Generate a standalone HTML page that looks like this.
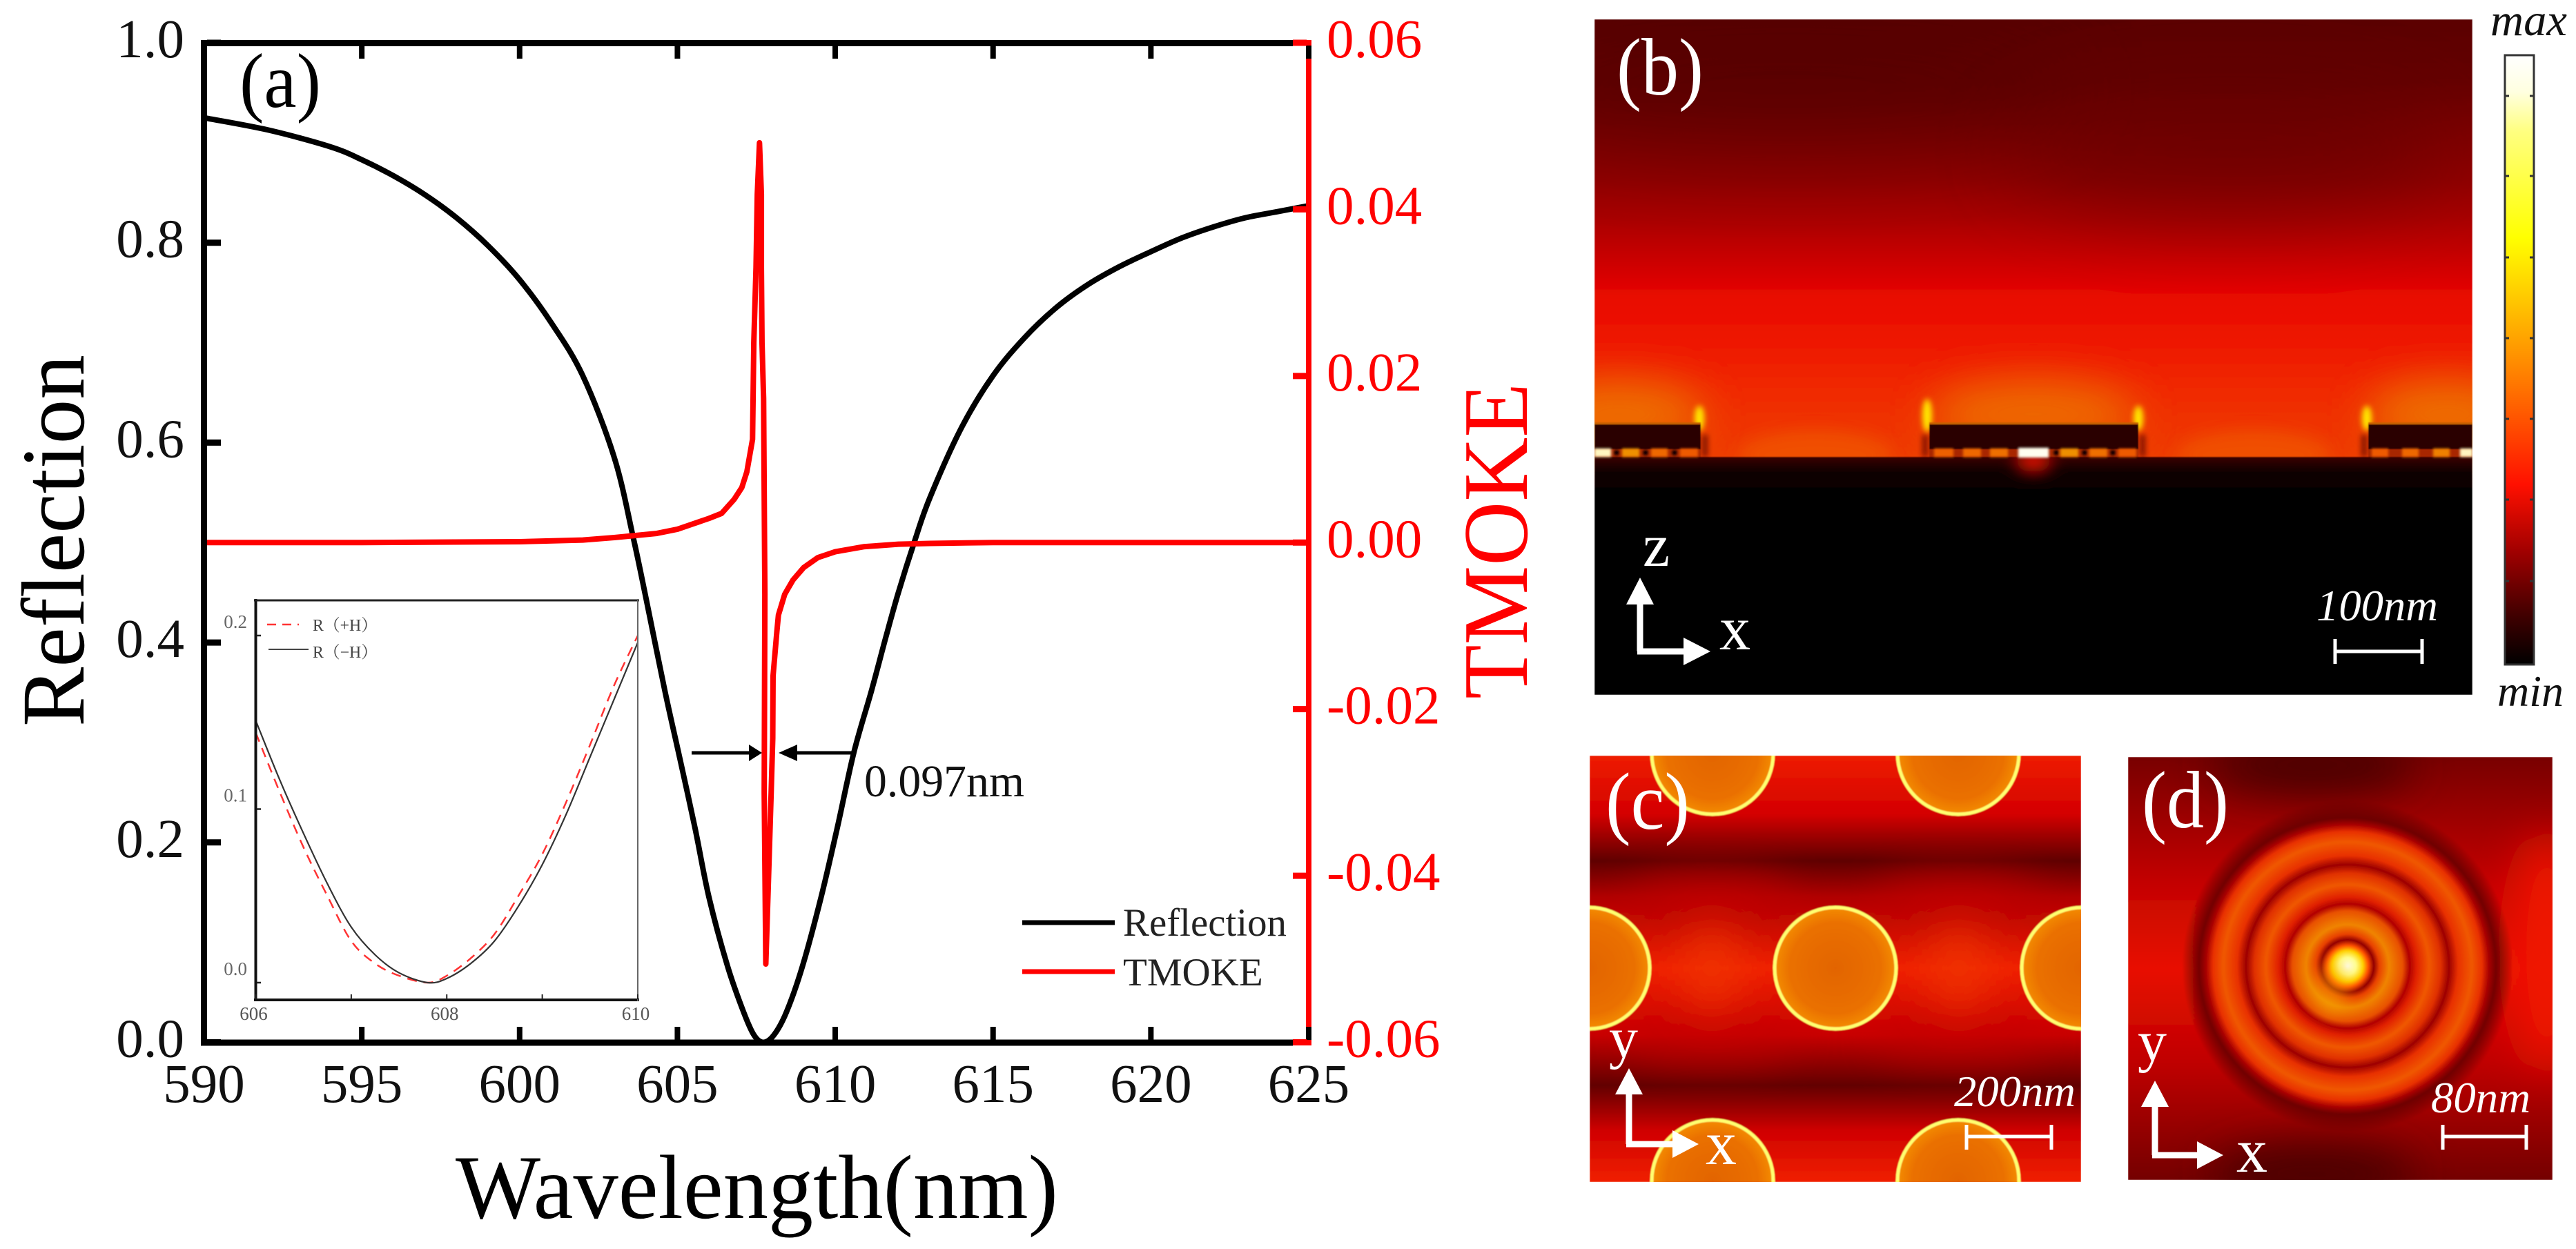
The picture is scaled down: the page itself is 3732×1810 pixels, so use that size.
<!DOCTYPE html>
<html lang="en">
<head>
<meta charset="utf-8">
<title>Reflection and TMOKE spectra with field maps</title>
<style>
html,body{margin:0;padding:0;background:#fff;width:3732px;height:1810px;overflow:hidden}
svg{display:block}
text{font-family:"Liberation Serif","Noto Serif CJK SC",serif}
</style>
</head>
<body>
<svg id="figure" xmlns="http://www.w3.org/2000/svg" width="3732" height="1810" viewBox="0 0 3732 1810">
<defs>
  <filter id="b1" x="-20%" y="-20%" width="140%" height="140%"><feGaussianBlur stdDeviation="1.6"/></filter>
  <filter id="b3" x="-100%" y="-100%" width="300%" height="300%"><feGaussianBlur stdDeviation="4"/></filter>
  <filter id="b12" x="-100%" y="-150%" width="300%" height="400%"><feGaussianBlur stdDeviation="12"/></filter>
  <filter id="b30" x="-60%" y="-100%" width="220%" height="300%"><feGaussianBlur stdDeviation="30"/></filter>
  <filter id="b60" x="-60%" y="-150%" width="220%" height="400%"><feGaussianBlur stdDeviation="60"/></filter>
  <filter id="soft" x="-2%" y="-2%" width="104%" height="104%"><feGaussianBlur stdDeviation="0.7"/></filter>
  <clipPath id="clip-b"><rect x="2310" y="28" width="1272" height="979"/></clipPath>
  <clipPath id="clip-c"><rect x="2303" y="1095" width="712" height="618"/></clipPath>
  <clipPath id="clip-d"><rect x="3083" y="1097" width="615" height="613"/></clipPath>
  <linearGradient id="grad-b" gradientUnits="userSpaceOnUse" x1="0" y1="28" x2="0" y2="662">
    <stop offset="0" stop-color="#5a0000"/><stop offset=".145" stop-color="#660000"/><stop offset=".255" stop-color="#7c0000"/>
    <stop offset=".366" stop-color="#900000"/><stop offset=".46" stop-color="#aa0000"/><stop offset=".555" stop-color="#cc0000"/>
    <stop offset=".634" stop-color="#e80800"/><stop offset=".744" stop-color="#ee1800"/><stop offset=".84" stop-color="#f02800"/>
    <stop offset="1" stop-color="#ee3c00"/>
  </linearGradient>
  <linearGradient id="grad-sub" gradientUnits="userSpaceOnUse" x1="0" y1="662" x2="0" y2="720">
    <stop offset="0" stop-color="#3a0500"/><stop offset=".35" stop-color="#120000"/><stop offset="1" stop-color="#000"/>
  </linearGradient>
  <linearGradient id="grad-cb" x1="0" y1="0" x2="0" y2="1">
    <stop offset="0" stop-color="#ffffff"/><stop offset=".06" stop-color="#ffffe0"/><stop offset=".125" stop-color="#ffff80"/>
    <stop offset=".3" stop-color="#ffff00"/><stop offset=".415" stop-color="#ffc000"/><stop offset=".525" stop-color="#ff8000"/>
    <stop offset=".63" stop-color="#ff4000"/><stop offset=".705" stop-color="#ff1000"/><stop offset=".815" stop-color="#a00000"/>
    <stop offset=".92" stop-color="#400000"/><stop offset="1" stop-color="#000"/>
  </linearGradient>
  <linearGradient id="grad-c" gradientUnits="userSpaceOnUse" x1="0" y1="1095" x2="0" y2="1713">
    <stop offset="0" stop-color="#ee1c00"/><stop offset=".137" stop-color="#d40000"/><stop offset=".247" stop-color="#5f0000"/>
    <stop offset=".33" stop-color="#b00000"/><stop offset=".498" stop-color="#f02000"/><stop offset=".655" stop-color="#c80000"/>
    <stop offset=".773" stop-color="#620000"/><stop offset=".88" stop-color="#d00000"/><stop offset="1" stop-color="#f02000"/>
  </linearGradient>
  <radialGradient id="grad-disk"><stop offset="0" stop-color="#e26400"/><stop offset=".75" stop-color="#ea7000"/><stop offset="1" stop-color="#f48c00"/></radialGradient>
  <linearGradient id="grad-d" gradientUnits="userSpaceOnUse" x1="0" y1="1097" x2="0" y2="1710">
    <stop offset="0" stop-color="#780000"/><stop offset=".3" stop-color="#c40400"/><stop offset=".5" stop-color="#e81000"/>
    <stop offset=".72" stop-color="#c00000"/><stop offset="1" stop-color="#740000"/>
  </linearGradient>
  <radialGradient id="grad-rings" gradientUnits="userSpaceOnUse" cx="3401" cy="1400" r="250">
    <stop offset="0" stop-color="#fffff0"/><stop offset=".05" stop-color="#ffff90"/><stop offset=".09" stop-color="#ffd000"/>
    <stop offset=".12" stop-color="#ff5000"/><stop offset=".152" stop-color="#900000"/><stop offset=".184" stop-color="#e84000"/>
    <stop offset=".24" stop-color="#f08400"/><stop offset=".32" stop-color="#e85000"/><stop offset=".36" stop-color="#b00000"/>
    <stop offset=".4" stop-color="#e02000"/><stop offset=".472" stop-color="#f05800"/><stop offset=".54" stop-color="#e03000"/>
    <stop offset=".588" stop-color="#9c0000"/><stop offset=".64" stop-color="#e83000"/><stop offset=".72" stop-color="#f05800"/>
    <stop offset=".78" stop-color="#e83000"/><stop offset=".82" stop-color="#a80000"/><stop offset=".86" stop-color="#680000" stop-opacity=".9"/>
    <stop offset=".96" stop-color="#5a0000" stop-opacity="0"/><stop offset="1" stop-color="#5a0000" stop-opacity="0"/>
  </radialGradient>
</defs>

<rect width="3732" height="1810" fill="#fff"/>

<!-- Panel (a) -->
<g id="panel-a">
  <g id="main-marks"></g>
  <g id="main-axes"></g>
  <text transform="translate(121,1053) rotate(-90)" font-size="130" textLength="539" lengthAdjust="spacingAndGlyphs" fill="#000">Reflection</text>
  <text transform="translate(2212,1013) rotate(-90)" font-size="134" textLength="458" lengthAdjust="spacingAndGlyphs" fill="#f00">TMOKE</text>
  <text x="660" y="1765" font-size="132" textLength="873" lengthAdjust="spacingAndGlyphs" fill="#000">Wavelength(nm)</text>
  <text x="347" y="155" font-size="112" textLength="118" lengthAdjust="spacingAndGlyphs" fill="#000">(a)</text>
  <g>
    <line x1="1002" y1="1091" x2="1090" y2="1091" stroke="#000" stroke-width="5"/>
    <polygon points="1104,1091 1085,1079 1085,1103" fill="#000"/>
    <line x1="1150" y1="1091" x2="1237" y2="1091" stroke="#000" stroke-width="5"/>
    <polygon points="1128,1091 1155,1079 1155,1103" fill="#000"/>
    <text x="1252" y="1154" font-size="66" textLength="232" lengthAdjust="spacingAndGlyphs" fill="#111">0.097nm</text>
  </g>
  <g>
    <line x1="1481" y1="1337" x2="1615" y2="1337" stroke="#000" stroke-width="7"/>
    <text x="1627" y="1356" font-size="57" textLength="237" lengthAdjust="spacingAndGlyphs" fill="#222">Reflection</text>
    <line x1="1481" y1="1408" x2="1615" y2="1408" stroke="#f00" stroke-width="7"/>
    <text x="1627" y="1428" font-size="57" fill="#222">TMOKE</text>
  </g>
  <g id="inset"></g>
  <g>
    <line x1="387" y1="905" x2="433" y2="905" stroke="#f33" stroke-width="2.5" stroke-dasharray="13 9"/>
    <text x="453" y="914" font-size="24" textLength="94" lengthAdjust="spacingAndGlyphs" fill="#444">R（+H）</text>
    <line x1="389" y1="941" x2="447" y2="941" stroke="#444" stroke-width="2"/>
    <text x="453" y="953" font-size="24" textLength="94" lengthAdjust="spacingAndGlyphs" fill="#444">R（−H）</text>
  </g>
</g>

<!-- Panel (b) -->
<g>
  <g clip-path="url(#clip-b)" filter="url(#soft)">
    <rect x="2310" y="28" width="1272" height="640" fill="url(#grad-b)"/>
    <ellipse cx="2590" cy="130" rx="420" ry="90" fill="#480000" opacity=".45" filter="url(#b60)"/>
    <ellipse cx="3230" cy="220" rx="320" ry="90" fill="#500000" opacity=".4" filter="url(#b60)"/>
    <ellipse cx="2345" cy="600" rx="125" ry="50" fill="#ee7400" opacity=".9" filter="url(#b30)"/>
    <ellipse cx="2946" cy="600" rx="150" ry="50" fill="#ee7000" opacity=".9" filter="url(#b30)"/>
    <ellipse cx="3545" cy="600" rx="115" ry="50" fill="#ee7400" opacity=".9" filter="url(#b30)"/>
    <ellipse cx="2630" cy="660" rx="110" ry="35" fill="#f05000" filter="url(#b12)"/>
    <ellipse cx="3265" cy="660" rx="110" ry="35" fill="#f05000" filter="url(#b12)"/>
    <rect x="2466" y="630" width="8" height="32" fill="#500000" opacity=".7" filter="url(#b3)"/>
    <rect x="2785" y="630" width="8" height="32" fill="#500000" opacity=".7" filter="url(#b3)"/>
    <rect x="3100" y="630" width="8" height="32" fill="#500000" opacity=".7" filter="url(#b3)"/>
    <rect x="3421" y="630" width="8" height="32" fill="#500000" opacity=".7" filter="url(#b3)"/>
    <ellipse cx="2462" cy="606" rx="7" ry="18" fill="#ffe800" filter="url(#b3)"/>
    <ellipse cx="2792" cy="602" rx="7" ry="24" fill="#ffe800" filter="url(#b3)"/>
    <ellipse cx="3098" cy="606" rx="7" ry="18" fill="#ffe800" filter="url(#b3)"/>
    <ellipse cx="3429" cy="606" rx="7" ry="18" fill="#ffe800" filter="url(#b3)"/>
    <rect x="2310" y="662" width="1272" height="345" fill="url(#grad-sub)"/>
    <ellipse cx="2946" cy="668" rx="26" ry="16" fill="#e01000" filter="url(#b12)"/>
    <g>
      <rect x="2310" y="613" width="154" height="38" fill="#2a0200"/>
      <rect x="2310" y="612" width="154" height="3" fill="#c86000"/>
      <rect x="2310" y="651" width="154" height="11" fill="#a82800"/>
    </g>
    <g>
      <rect x="2795" y="613" width="303" height="38" fill="#2a0200"/>
      <rect x="2795" y="612" width="303" height="3" fill="#c86000"/>
      <rect x="2795" y="651" width="303" height="11" fill="#a82800"/>
    </g>
    <g>
      <rect x="3431" y="613" width="151" height="38" fill="#2a0200"/>
      <rect x="3431" y="612" width="151" height="3" fill="#c86000"/>
      <rect x="3431" y="651" width="151" height="11" fill="#a82800"/>
    </g>
    <g filter="url(#b1)">
      <rect x="2310" y="650" width="24" height="12" fill="#fff6c0"/>
      <rect x="2350" y="650" width="25" height="12" fill="#ee9000"/>
      <rect x="2392" y="650" width="24" height="12" fill="#ee6800"/>
      <rect x="2434" y="650" width="26" height="12" fill="#ee5a00"/>
      <rect x="2802" y="650" width="28" height="12" fill="#ee6000"/>
      <rect x="2844" y="650" width="26" height="12" fill="#ee6800"/>
      <rect x="2883" y="650" width="26" height="12" fill="#ee7000"/>
      <rect x="2924" y="649" width="44" height="14" fill="#fffff0"/>
      <rect x="2985" y="650" width="26" height="12" fill="#ee9000"/>
      <rect x="3027" y="650" width="26" height="12" fill="#ee7000"/>
      <rect x="3069" y="650" width="26" height="12" fill="#ee5a00"/>
      <rect x="3436" y="650" width="24" height="12" fill="#ee5a00"/>
      <rect x="3480" y="650" width="24" height="12" fill="#ee6800"/>
      <rect x="3525" y="650" width="24" height="12" fill="#ee8000"/>
      <rect x="3564" y="650" width="18" height="12" fill="#fff6c0"/>
      <circle cx="2342" cy="656" r="4" fill="#100000"/>
      <circle cx="2384" cy="656" r="4" fill="#100000"/>
      <circle cx="2426" cy="656" r="4" fill="#100000"/>
      <circle cx="2979" cy="656" r="4" fill="#100000"/>
      <circle cx="3020" cy="656" r="4" fill="#100000"/>
      <circle cx="3061" cy="656" r="4" fill="#100000"/>
    </g>
  </g>
  <text x="2342" y="137" font-size="118" textLength="126" lengthAdjust="spacingAndGlyphs" fill="#fff">(b)</text>
  <g>
    <path d="M2376 870V944" stroke="#fff" stroke-width="9" fill="none"/>
    <path d="M2372 944H2445" stroke="#fff" stroke-width="9" fill="none"/>
    <polygon points="2376,837 2356,876 2396,876" fill="#fff"/>
    <polygon points="2478,944 2439,924 2439,964" fill="#fff"/>
    <text x="2380" y="820" font-size="88" fill="#fff">z</text>
    <text x="2491" y="941" font-size="90" fill="#fff">x</text>
  </g>
  <text x="3356" y="899" font-size="64" font-style="italic" textLength="176" lengthAdjust="spacingAndGlyphs" fill="#fff">100nm</text>
  <path d="M3383 926V962M3383 944H3509M3509 926V962" stroke="#fff" stroke-width="5" fill="none"/>
</g>

<!-- Colorbar -->
<g>
  <text x="3608" y="51" font-size="66" font-style="italic" textLength="111" lengthAdjust="spacingAndGlyphs" fill="#111">max</text>
  <rect x="3629" y="80" width="42" height="883" fill="url(#grad-cb)" stroke="#333" stroke-width="3"/>
  <path d="M3629 139h6M3671 139h-6M3629 255h6M3671 255h-6M3629 373h6M3671 373h-6M3629 490h6M3671 490h-6M3629 607h6M3671 607h-6M3629 724h6M3671 724h-6M3629 842h6M3671 842h-6" stroke="#333" stroke-width="3"/>
  <text x="3618" y="1023" font-size="64" font-style="italic" textLength="96" lengthAdjust="spacingAndGlyphs" fill="#111">min</text>
</g>

<!-- Panel (c) -->
<g>
  <g clip-path="url(#clip-c)" filter="url(#soft)">
    <rect x="2303" y="1095" width="712" height="618" fill="url(#grad-c)"/>
    <ellipse cx="2481" cy="1300" rx="120" ry="34" fill="#c00000" opacity=".75" filter="url(#b30)"/>
    <ellipse cx="2837" cy="1300" rx="120" ry="34" fill="#c00000" opacity=".75" filter="url(#b30)"/>
    <ellipse cx="2481" cy="1510" rx="120" ry="30" fill="#c00000" opacity=".6" filter="url(#b30)"/>
    <ellipse cx="2837" cy="1510" rx="120" ry="30" fill="#c00000" opacity=".6" filter="url(#b30)"/>
    <ellipse cx="2480" cy="1403" rx="50" ry="70" fill="#f03800" opacity=".7" filter="url(#b30)"/>
    <ellipse cx="2838" cy="1403" rx="50" ry="70" fill="#f03800" opacity=".7" filter="url(#b30)"/>
    <g stroke="#ffff70" stroke-width="5" fill="url(#grad-disk)">
      <circle cx="2481" cy="1092" r="88"/>
      <circle cx="2837" cy="1092" r="88"/>
      <circle cx="2302" cy="1403" r="88"/>
      <circle cx="2659" cy="1403" r="88"/>
      <circle cx="3017" cy="1403" r="88"/>
      <circle cx="2481" cy="1711" r="88"/>
      <circle cx="2837" cy="1711" r="88"/>
    </g>
  </g>
  <text x="2326" y="1201" font-size="118" textLength="122" lengthAdjust="spacingAndGlyphs" fill="#fff">(c)</text>
  <g>
    <path d="M2360 1580V1658" stroke="#fff" stroke-width="9" fill="none"/>
    <path d="M2356 1658H2428" stroke="#fff" stroke-width="9" fill="none"/>
    <polygon points="2360,1548 2340,1586 2380,1586" fill="#fff"/>
    <polygon points="2461,1658 2423,1638 2423,1678" fill="#fff"/>
    <text x="2331" y="1532" font-size="84" fill="#fff">y</text>
    <text x="2471" y="1687" font-size="90" fill="#fff">x</text>
  </g>
  <text x="2831" y="1603" font-size="64" font-style="italic" textLength="176" lengthAdjust="spacingAndGlyphs" fill="#fff">200nm</text>
  <path d="M2849 1630V1666M2849 1647H2972M2972 1630V1666" stroke="#fff" stroke-width="5" fill="none"/>
</g>

<!-- Panel (d) -->
<g>
  <g clip-path="url(#clip-d)" filter="url(#soft)">
    <rect x="3083" y="1097" width="615" height="613" fill="url(#grad-d)"/>
    <ellipse cx="3690" cy="1380" rx="50" ry="170" fill="#f01800" filter="url(#b30)"/>
    <ellipse cx="3350" cy="1110" rx="150" ry="40" fill="#4a0000" filter="url(#b30)"/>
    <ellipse cx="3350" cy="1700" rx="150" ry="40" fill="#4a0000" filter="url(#b30)"/>
    <circle cx="3401" cy="1400" r="250" fill="url(#grad-rings)"/>
    <ellipse cx="3378" cy="1432" rx="26" ry="38" fill="#f8b000" opacity=".45" filter="url(#b12)"/>
  </g>
  <text x="3103" y="1199" font-size="118" textLength="126" lengthAdjust="spacingAndGlyphs" fill="#fff">(d)</text>
  <g>
    <path d="M3122 1598V1674" stroke="#fff" stroke-width="9" fill="none"/>
    <path d="M3118 1674H3188" stroke="#fff" stroke-width="9" fill="none"/>
    <polygon points="3122,1566 3102,1604 3142,1604" fill="#fff"/>
    <polygon points="3221,1674 3183,1654 3183,1694" fill="#fff"/>
    <text x="3097" y="1537" font-size="84" fill="#fff">y</text>
    <text x="3240" y="1698" font-size="90" fill="#fff">x</text>
  </g>
  <text x="3522" y="1612" font-size="64" font-style="italic" textLength="144" lengthAdjust="spacingAndGlyphs" fill="#fff">80nm</text>
  <path d="M3539 1630V1666M3539 1647H3660M3660 1630V1666" stroke="#fff" stroke-width="5" fill="none"/>
</g>
</svg>

<script>
// ---- main chart data ----
const reflectionWavelengths = [590,592,594,595,596,597,598,599,600,601,602,603,603.6,604,604.6,605.07,605.56,606,606.59,607.1,607.43,607.72,608.05,608.45,608.96,609.55,610.06,610.59,611.15,611.6,612,612.5,613,614,615,616,617,618,619,620,621,622,623,624,625];
const reflectionValues = [0.925,0.913,0.896,0.883,0.867,0.848,0.825,0.797,0.763,0.72,0.667,0.585,0.505,0.445,0.352,0.285,0.214,0.145,0.076,0.03,0.007,0,0.007,0.03,0.076,0.145,0.214,0.29,0.352,0.405,0.45,0.5,0.545,0.615,0.667,0.705,0.735,0.758,0.776,0.791,0.805,0.816,0.825,0.831,0.837];
const tmokeWavelengths = [590,595,600,602,603,604.35,605,606,606.4,606.8,607.04,607.2,607.38,607.42,607.49,607.53,607.6,607.66,607.66,607.68,607.73,607.77,607.75,607.8,607.88,607.97,608.02,608.03,608.15,608.2,608.4,608.66,609,609.45,610,610.9,612,613,615,620,625];
const tmokeValues = [0,0,0.0001,0.0003,0.0006,0.0011,0.0016,0.0029,0.0035,0.0052,0.0066,0.0085,0.0124,0.024,0.033,0.0418,0.048,0.0418,0.033,0.024,0.0173,-0.0062,-0.03,-0.0506,-0.041,-0.03,-0.0235,-0.016,-0.0107,-0.0087,-0.0062,-0.0045,-0.003,-0.0018,-0.0011,-0.0005,-0.0002,-0.0001,0,0,0];
const xTickLabels = [590,595,600,605,610,615,620,625];
const leftTickLabels = ["0.0","0.2","0.4","0.6","0.8","1.0"];
const rightTickLabels = ["-0.06","-0.04","-0.02","0.00","0.02","0.04","0.06"];

// ---- inset data ----
const insetWavelengths = [606,606.25,606.5,606.75,607,607.25,607.5,607.8,608,608.25,608.5,608.75,609,609.25,609.5,609.75,610];
const insetMinusValues = [0.151,0.117,0.086,0.057,0.032,0.016,0.0057,0,0.0024,0.011,0.024,0.044,0.068,0.097,0.13,0.163,0.196];
const insetPlusValues = [0.144,0.11,0.078,0.05,0.024,0.011,0.004,0,0.004,0.014,0.028,0.05,0.074,0.104,0.137,0.171,0.2];
const insetXTicks = [606,607,608,609,610];
const insetXLabels = ["606","","608","","610"];
const insetYLabels = ["0.0","0.1","0.2"];

const NS = 'http://www.w3.org/2000/svg';
function mk(parent, tag, attrs, txt) {
  const el = document.createElementNS(NS, tag);
  for (const k in attrs) el.setAttribute(k, attrs[k]);
  if (txt !== undefined) el.textContent = txt;
  parent.appendChild(el);
  return el;
}
// axis functions
const xMain = v => 295.5 + (v - 590) * (1896 - 295.5) / 35;
const yLeft = v => 1510.5 - v * (1510.5 - 62);
const yRight = v => 786.25 - v * (1510.5 - 62) / 0.12;
const xInset = v => 370.5 + (v - 606) * (924 - 370.5) / 4;
const yInset = v => 1424 - v * (1424 - 921) / 0.2;

function smoothPath(px, py) {
  let d = 'M' + px[0].toFixed(2) + ' ' + py[0].toFixed(2);
  for (let i = 0; i < px.length - 1; i++) {
    const a = Math.max(i - 1, 0), b = i + 1, c = Math.min(i + 2, px.length - 1);
    const k = 1 / 6;
    const c1x = px[i] + (px[b] - px[a]) * k, c1y = py[i] + (py[b] - py[a]) * k;
    const c2x = px[b] - (px[c] - px[i]) * k, c2y = py[b] - (py[c] - py[i]) * k;
    d += 'C' + c1x.toFixed(2) + ' ' + c1y.toFixed(2) + ' ' + c2x.toFixed(2) + ' ' + c2y.toFixed(2) + ' ' + px[b].toFixed(2) + ' ' + py[b].toFixed(2);
  }
  return d;
}
function linePath(px, py) {
  return px.map((x, i) => (i ? 'L' : 'M') + x.toFixed(2) + ' ' + py[i].toFixed(2)).join('');
}

const marks = document.getElementById('main-marks');
const reflectionLine = mk(marks, 'path', {
  d: smoothPath(reflectionWavelengths.map(xMain), reflectionValues.map(yLeft)),
  fill: 'none', stroke: '#000', 'stroke-width': 8, 'stroke-linejoin': 'round'
});


const tmokeLine = mk(marks, 'path', {
  d: linePath(tmokeWavelengths.map(xMain), tmokeValues.map(yRight)),
  fill: 'none', stroke: '#f00', 'stroke-width': 8, 'stroke-linejoin': 'round'
});



const axes = document.getElementById('main-axes');
const frameLeft = mk(axes, 'line', {x1: 295.5, y1: 58, x2: 295.5, y2: 1515, stroke: '#000', 'stroke-width': 9});


const frameTop = mk(axes, 'line', {x1: 291, y1: 62.5, x2: 1873, y2: 62.5, stroke: '#000', 'stroke-width': 9});


const frameBottom = mk(axes, 'line', {x1: 291, y1: 1511, x2: 1873, y2: 1511, stroke: '#000', 'stroke-width': 9});


const frameRight = mk(axes, 'line', {x1: 1896, y1: 58, x2: 1896, y2: 1515, stroke: '#f00', 'stroke-width': 8});



xTickLabels.forEach(v => {
  const x = xMain(v);
  const tickB = mk(axes, 'line', {x1: x, y1: 1507, x2: x, y2: 1488, stroke: '#000', 'stroke-width': 8});
  
  
  const tickT = mk(axes, 'line', {x1: x, y1: 66, x2: x, y2: 85, stroke: '#000', 'stroke-width': 8});
  
  
  const label = mk(axes, 'text', {x: x, y: 1597, 'font-size': 79, 'text-anchor': 'middle', fill: '#111'}, String(v));
  
  
});
leftTickLabels.forEach(t => {
  const y = yLeft(parseFloat(t));
  const tick = mk(axes, 'line', {x1: 300, y1: y, x2: 320, y2: y, stroke: '#000', 'stroke-width': 9});
  
  
  const label = mk(axes, 'text', {x: 267, y: y + 21, 'font-size': 79, 'text-anchor': 'end', fill: '#111'}, t);
  
  
});
rightTickLabels.forEach(t => {
  const y = yRight(parseFloat(t));
  const tick = mk(axes, 'line', {x1: 1873, y1: y, x2: 1893, y2: y, stroke: '#f00', 'stroke-width': 9});
  
  
  const label = mk(axes, 'text', {x: 1922, y: y + 21, 'font-size': 79, fill: '#f00'}, t);
  
  
});

// inset
const inset = document.getElementById('inset');
const insetPlus = mk(inset, 'path', {
  d: smoothPath(insetWavelengths.map(xInset), insetPlusValues.map(yInset)),
  fill: 'none', stroke: '#f33', 'stroke-width': 2.5, 'stroke-dasharray': '14 10'
});


const insetMinus = mk(inset, 'path', {
  d: smoothPath(insetWavelengths.map(xInset), insetMinusValues.map(yInset)),
  fill: 'none', stroke: '#333', 'stroke-width': 2.2
});


const inLeft = mk(inset, 'line', {x1: 370.5, y1: 868, x2: 370.5, y2: 1451, stroke: '#111', 'stroke-width': 4});


const inBottom = mk(inset, 'line', {x1: 368, y1: 1449, x2: 926, y2: 1449, stroke: '#111', 'stroke-width': 4});


const inTop = mk(inset, 'line', {x1: 368, y1: 870, x2: 926, y2: 870, stroke: '#222', 'stroke-width': 3});


const inRight = mk(inset, 'line', {x1: 924, y1: 868, x2: 924, y2: 1451, stroke: '#666', 'stroke-width': 2});


insetXTicks.forEach((v, i) => {
  const x = xInset(v);
  const tick = mk(inset, 'line', {x1: x, y1: 1448, x2: x, y2: 1441, stroke: '#222', 'stroke-width': 2});
  
  
  if (insetXLabels[i]) {
    const label = mk(inset, 'text', {x: x - 3, y: 1478, 'font-size': 27, 'text-anchor': 'middle', fill: '#555'}, insetXLabels[i]);
    
    
  }
});
insetYLabels.forEach(t => {
  const y = yInset(parseFloat(t));
  const tick = mk(inset, 'line', {x1: 372, y1: y, x2: 378, y2: y, stroke: '#222', 'stroke-width': 2.5});
  
  
  const label = mk(inset, 'text', {x: 358, y: y - 11, 'font-size': 27, 'text-anchor': 'end', fill: '#666'}, t);
  
  
});
</script>
</body>
</html>
